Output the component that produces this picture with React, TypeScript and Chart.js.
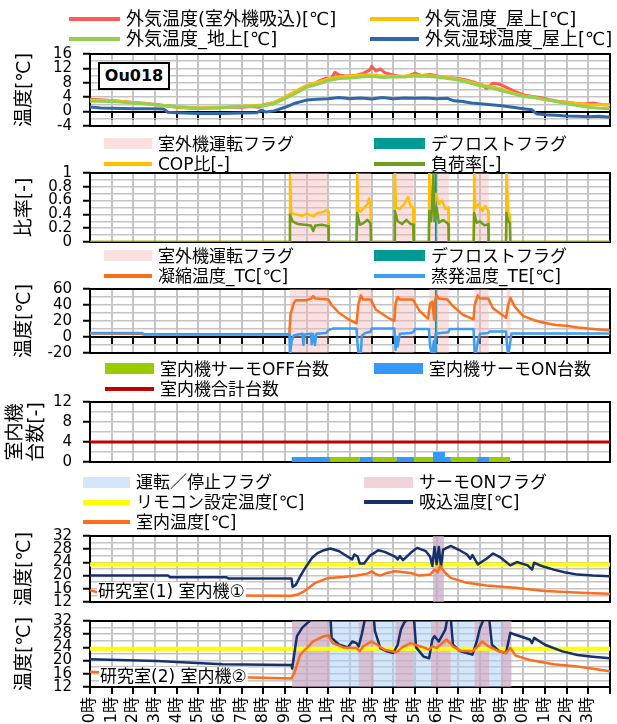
import React, { useEffect, useRef } from 'react';
import { Chart, registerables } from 'chart.js';

Chart.register(...registerables);
Chart.defaults.color = '#000';

type Pt = [number, number];

// ---------- tick labels ----------
const HOUR_LABELS = ['0時', '1時', '2時', '3時', '4時', '5時', '6時', '7時', '8時', '9時', '10時', '11時', '12時', '13時', '14時', '15時', '16時', '17時', '18時', '19時', '20時', '21時', '22時', '23時'];

// ---------- panel 1 : outdoor temperatures ----------
const outdoorIntake: Pt[] = [[0, 3.4], [0.5, 3.3], [1, 3.1], [1.5, 2.8], [2, 2.5], [2.5, 2.3], [3, 2.0], [3.5, 1.6], [4, 1.2], [4.5, 1.0], [5, 0.9], [5.5, 1.0], [6, 1.1], [6.5, 1.2], [7, 1.2], [7.5, 1.4], [7.8, 1.2], [8, 1.9], [8.5, 2.5], [9, 3.9], [9.5, 5.5], [10, 7.0], [10.3, 7.6], [10.6, 8.6], [10.9, 9.3], [11.1, 9.0], [11.3, 10.9], [11.5, 10.2], [11.8, 9.9], [12.2, 10.0], [12.6, 10.6], [12.9, 11.5], [13.0, 12.6], [13.2, 11.3], [13.4, 11.9], [13.6, 10.8], [13.9, 10.3], [14.2, 9.9], [14.6, 9.7], [15.0, 10.7], [15.3, 10.0], [15.7, 10.3], [16.1, 9.8], [16.5, 9.5], [17.0, 9.2], [17.4, 8.7], [17.8, 8.0], [18.1, 7.4], [18.3, 6.4], [18.6, 7.9], [18.9, 7.6], [19.2, 6.8], [19.6, 5.6], [20.0, 4.7], [20.4, 4.2], [20.8, 3.9], [21.2, 3.3], [21.6, 2.9], [22.0, 2.6], [22.4, 2.3], [22.8, 2.1], [23.2, 2.4], [23.6, 2.0], [24, 1.8]];
const outdoorRoof: Pt[] = [[0, 3.2], [1, 3.0], [2, 2.5], [3, 1.9], [4, 1.3], [5, 1.0], [6, 1.2], [7, 1.5], [8, 1.8], [8.5, 2.6], [9, 4.1], [9.5, 5.8], [10, 7.3], [10.5, 8.2], [11, 9.1], [11.5, 9.7], [12, 9.9], [12.5, 10.1], [13, 10.2], [13.5, 9.9], [14, 9.8], [14.5, 9.9], [15, 10.1], [15.5, 10.0], [16, 9.8], [16.5, 9.5], [17, 9.0], [17.5, 8.3], [18, 7.5], [18.5, 6.9], [19, 6.2], [19.5, 5.2], [20, 4.4], [20.5, 3.9], [21, 3.3], [21.5, 2.9], [22, 2.5], [22.5, 2.2], [23, 2.0], [23.5, 1.9], [24, 1.8]];
const outdoorGround: Pt[] = [[0, 2.9], [1, 2.8], [2, 2.4], [3, 2.0], [4, 1.4], [5, 0.9], [6, 1.1], [7, 1.4], [8, 1.6], [8.5, 2.2], [9, 3.6], [9.5, 5.1], [10, 6.8], [10.5, 7.6], [11, 8.6], [11.5, 9.2], [12, 9.3], [12.5, 9.6], [13, 9.8], [13.5, 9.5], [14, 9.6], [14.5, 9.6], [15, 9.9], [15.5, 9.8], [16, 9.6], [16.5, 9.2], [17, 8.8], [17.5, 8.0], [18, 7.2], [18.5, 6.6], [19, 5.8], [19.5, 5.0], [20, 4.2], [20.5, 3.9], [21, 3.4], [21.5, 2.8], [22, 2.2], [22.5, 1.7], [23, 1.2], [23.5, 0.9], [24, 0.8]];
const wetBulbRoof: Pt[] = [[0, 1.3], [0.5, 1.0], [1, 0.9], [2, 0.8], [3, 0.8], [3.4, 0.7], [3.6, -0.2], [4, -0.3], [5, -0.5], [6, -0.5], [7, -0.4], [7.7, -0.3], [7.9, 0.4], [8.1, -0.1], [8.5, 0.2], [9, 1.2], [9.5, 2.4], [10, 3.2], [10.5, 3.4], [11, 3.6], [11.5, 3.9], [12, 3.6], [12.5, 3.8], [13, 3.5], [13.5, 3.9], [14, 3.6], [14.5, 3.8], [15, 3.7], [15.5, 3.8], [16, 3.6], [16.5, 3.7], [16.8, 3.0], [17.2, 2.8], [17.6, 2.4], [18, 2.2], [18.5, 1.9], [19, 1.6], [19.5, 1.2], [20, 0.8], [20.4, 0.5], [20.6, -0.6], [21, -0.9], [21.5, -1.0], [22, -1.2], [22.5, -1.3], [23, -1.4], [23.5, -1.3], [24, -1.6]];

// ---------- panel 2 / 3 : outdoor unit ----------
const outdoorRunFlag: Pt[] = [[0, 0], [9.23, 1], [11.02, 0], [12.33, 1], [12.97, 0], [14.07, 1], [14.94, 0], [15.66, 1], [16.56, 0], [17.73, 1], [18.4, 0], [19.22, 1], [19.4, 0], [24, 0]];
const defrostFlag: Pt[] = [[0, 0], [15.92, 1], [16.0, 0], [24, 0]];
const copRatio: Pt[] = [[0, 0], [9.2, 0], [9.23, 0.97], [9.28, 0.42], [9.5, 0.4], [9.8, 0.38], [10.0, 0.41], [10.3, 0.37], [10.5, 0.42], [10.7, 0.43], [10.9, 0.46], [11.0, 0.44], [11.02, 0], [12.3, 0], [12.33, 1.0], [12.38, 0.45], [12.5, 0.44], [12.65, 0.5], [12.8, 0.55], [12.88, 0.63], [12.95, 0.5], [12.97, 0], [14.05, 0], [14.07, 1.0], [14.12, 0.5], [14.3, 0.48], [14.5, 0.55], [14.68, 0.65], [14.8, 0.52], [14.92, 0.5], [14.94, 0], [15.64, 0], [15.66, 1.0], [15.72, 0.6], [15.8, 0.75], [15.87, 0.45], [15.95, 0.7], [16.1, 0.55], [16.25, 0.6], [16.4, 0.48], [16.54, 0.5], [16.56, 0], [17.71, 0], [17.73, 1.0], [17.78, 0.5], [17.95, 0.55], [18.1, 0.45], [18.25, 0.52], [18.38, 0.45], [18.4, 0], [19.2, 0], [19.22, 1.0], [19.3, 0.42], [19.38, 0.4], [19.4, 0], [24, 0]];
const loadRatio: Pt[] = [[0, 0], [9.2, 0], [9.23, 0.4], [9.35, 0.3], [9.6, 0.26], [9.9, 0.25], [10.2, 0.24], [10.3, 0.16], [10.4, 0.24], [10.7, 0.25], [11.0, 0.23], [11.02, 0], [12.3, 0], [12.33, 0.42], [12.45, 0.25], [12.6, 0.27], [12.8, 0.32], [12.95, 0.27], [12.97, 0], [14.05, 0], [14.07, 0.45], [14.2, 0.3], [14.4, 0.26], [14.6, 0.32], [14.8, 0.26], [14.92, 0.25], [14.94, 0], [15.64, 0], [15.66, 0.45], [15.75, 0.3], [15.85, 0.98], [15.9, 0.3], [16.0, 0.5], [16.1, 0.28], [16.3, 0.32], [16.54, 0.26], [16.56, 0], [17.71, 0], [17.73, 0.42], [17.85, 0.28], [18.0, 0.3], [18.2, 0.24], [18.38, 0.26], [18.4, 0], [19.2, 0], [19.22, 0.42], [19.3, 0.3], [19.38, 0.28], [19.4, 0], [24, 0]];
const condTemp: Pt[] = [[0, 4.5], [2.3, 4.0], [2.5, 3.0], [9.2, 3.0], [9.25, 28], [9.4, 42], [9.5, 46], [10.0, 46], [10.2, 48], [10.3, 51], [10.4, 48], [11.0, 47], [11.15, 40], [11.5, 30], [12.0, 21], [12.3, 17], [12.38, 40], [12.5, 52], [12.6, 47], [12.95, 47], [13.2, 34], [13.7, 25], [14.05, 20], [14.1, 42], [14.2, 50], [14.3, 47], [14.9, 47], [15.2, 33], [15.6, 23], [15.7, 42], [15.8, 44], [15.88, 22], [15.92, 45], [16.0, 52], [16.1, 48], [16.5, 47], [16.7, 40], [17.2, 28], [17.7, 22], [17.75, 40], [17.9, 52], [18.0, 48], [18.38, 48], [18.6, 36], [19.2, 24], [19.3, 40], [19.4, 49], [19.6, 38], [20.0, 26], [20.5, 21], [21.0, 17.5], [21.5, 15], [22.0, 14], [22.5, 12], [23.0, 10.5], [23.5, 9.5], [24, 8.5]];
const evapTemp: Pt[] = [[0, 5.0], [2.4, 5.0], [2.5, 3.5], [9.2, 3.5], [9.23, -22], [9.3, -6], [9.4, 2], [9.6, 3], [9.8, 4], [9.85, -10], [9.9, 3], [10.2, 4], [10.23, -9], [10.3, 4], [10.38, -10], [10.45, 4], [10.9, 5], [11.0, 8.5], [11.2, 10.5], [12.3, 10.5], [12.35, -10], [12.4, -22], [12.5, -20], [12.55, 2], [12.7, 5], [12.95, 6.6], [13.0, 10.5], [14.05, 10.5], [14.1, -16], [14.15, 0], [14.2, -12], [14.3, 4], [14.8, 5], [14.92, 6], [15.0, 10], [15.64, 10], [15.7, -12], [15.8, -22], [15.87, -5], [15.9, -22], [15.95, 4], [16.2, 5], [16.54, 6], [16.6, 10], [17.7, 10], [17.75, -18], [17.8, -22], [17.9, -5], [18.0, 4], [18.38, 5], [18.45, 7], [19.2, 7], [19.25, -12], [19.3, -22], [19.38, -10], [19.45, 4.5], [24, 4.5]];

// ---------- panel 4 : indoor unit counts ----------
const thermoOffCount: Pt[] = [[0, 0], [11.08, 1], [12.45, 0], [13.05, 1], [14.15, 0], [14.95, 1], [15.83, 0], [16.65, 1], [17.87, 0], [18.42, 1], [19.39, 0], [24, 0]];
const thermoOnCount: Pt[] = [[0, 0], [9.31, 1], [11.08, 0], [12.45, 1], [13.05, 0], [14.15, 1], [14.95, 0], [15.83, 2], [16.38, 1], [16.65, 0], [17.87, 1], [18.42, 0], [24, 0]];
const totalCount: Pt[] = [[0, 4], [24, 4]];

// ---------- panel 5 : room (1) ----------
const runFlag1: Pt[] = [[0, 0], [15.83, 1], [16.33, 0], [24, 0]];
const thermoFlag1: Pt[] = [[0, 0], [15.83, 1], [16.33, 0], [24, 0]];
const setpoint1: Pt[] = [[0, 23.4], [24, 23.4]];
const intake1: Pt[] = [[0, 20.0], [3.6, 20.0], [3.7, 19.5], [6.3, 19.5], [6.4, 19.1], [9.3, 19.1], [9.35, 16.6], [9.5, 17.2], [9.7, 19.8], [10.0, 23.0], [10.25, 25.4], [10.5, 26.8], [10.8, 27.7], [11.1, 28.2], [11.5, 27.4], [11.9, 25.7], [12.1, 24.9], [12.2, 26.4], [12.35, 25.8], [12.45, 23.7], [12.65, 23.7], [12.9, 25.9], [13.3, 27.7], [13.6, 27.2], [14.1, 25.7], [14.2, 24.9], [14.3, 25.9], [14.45, 24.7], [14.8, 26.9], [15.1, 28.4], [15.5, 27.4], [15.7, 25.7], [15.8, 22.9], [15.9, 28.7], [16.0, 23.4], [16.1, 28.7], [16.2, 22.7], [16.3, 27.9], [16.65, 29.0], [17.0, 27.9], [17.4, 26.4], [17.55, 25.1], [17.65, 26.2], [17.9, 23.4], [18.3, 25.1], [18.6, 26.7], [18.9, 25.7], [19.4, 23.1], [19.7, 24.1], [20.2, 23.1], [20.4, 21.8], [20.5, 23.9], [20.85, 22.9], [21.4, 21.8], [21.9, 21.0], [22.5, 20.3], [23.2, 20.0], [24, 19.8]];
const room1: Pt[] = [[0, 15.6], [0.6, 14.5], [3.1, 14.2], [6, 14.0], [9.3, 13.9], [9.6, 14.3], [9.9, 15.3], [10.4, 17.8], [11.0, 19.3], [11.7, 19.6], [12.3, 20.0], [12.8, 20.6], [13.0, 21.3], [13.2, 20.4], [13.4, 20.0], [13.7, 20.8], [14.1, 21.3], [14.5, 21.0], [14.8, 20.8], [15.2, 20.0], [15.7, 20.3], [15.9, 21.8], [16.05, 21.0], [16.15, 22.9], [16.4, 20.8], [16.65, 19.3], [17.4, 17.8], [18.3, 17.0], [19.6, 16.3], [21.0, 15.3], [22.9, 14.7], [24, 14.5]];

// ---------- panel 6 : room (2) ----------
const runFlag2: Pt[] = [[0, 0], [9.33, 1], [19.45, 0], [24, 0]];
const thermoFlag2: Pt[] = [[0, 0], [9.33, 1], [11.08, 0], [12.4, 1], [13.1, 0], [14.1, 1], [14.95, 0], [15.74, 1], [16.65, 0], [17.75, 1], [18.42, 0], [18.98, 1], [19.45, 0], [24, 0]];
const setpoint2: Pt[] = [[0, 23.6], [24, 23.6]];
const intake2: Pt[] = [[0, 20.4], [3.1, 19.9], [6.1, 18.9], [9.3, 18.7], [9.33, 17.6], [9.55, 27.4], [9.8, 30], [10.3, 33], [11.1, 33], [11.15, 26.9], [11.5, 24.8], [11.9, 24.0], [12.1, 25.8], [12.3, 25.3], [12.4, 24.3], [12.55, 28.1], [12.7, 33], [13.1, 33], [13.15, 29], [13.4, 23.8], [13.7, 22.8], [14.0, 22.3], [14.2, 24.8], [14.35, 29.4], [14.5, 31.5], [14.75, 33], [14.95, 33], [15.05, 24], [15.4, 21.2], [15.65, 20.7], [15.8, 26.4], [15.9, 27.4], [16.1, 25.8], [16.4, 29.4], [16.5, 33], [16.65, 33], [16.75, 24.8], [17.1, 22.8], [17.4, 22.3], [17.65, 21.8], [17.85, 25.8], [18.0, 29.9], [18.2, 33], [18.42, 33], [18.55, 24.8], [18.9, 22.8], [19.2, 22.3], [19.4, 28.4], [19.6, 27.9], [20.3, 26.4], [20.4, 25.3], [20.5, 26.9], [21.0, 24.8], [21.8, 22.8], [22.5, 21.7], [23.2, 21.2], [24, 20.7]];
const room2: Pt[] = [[0, 16.6], [3.1, 15.6], [6.1, 15.1], [9.3, 14.6], [9.45, 16.6], [9.7, 21.7], [10.3, 25.8], [10.8, 27.4], [11.0, 27.7], [11.2, 25.3], [11.7, 24.0], [12.3, 23.8], [12.45, 22.8], [12.6, 24.3], [13.0, 25.8], [13.3, 24.6], [13.6, 23.3], [14.1, 22.6], [14.2, 22.8], [14.4, 24.0], [14.8, 25.3], [15.0, 24.8], [15.4, 24.0], [15.65, 23.3], [15.8, 24.3], [16.0, 23.8], [16.45, 26.4], [16.75, 24.3], [17.1, 23.0], [17.65, 22.8], [17.85, 24.0], [18.1, 25.8], [18.4, 24.3], [18.8, 23.0], [19.2, 22.3], [19.4, 23.8], [19.65, 21.5], [20.3, 20.2], [21.4, 18.9], [22.5, 18.2], [24, 16.8]];

// ---------- styles ----------
const C = {
  intake: '#ff5a5a',
  roof: '#ffc000',
  ground: '#92d050',
  wet: '#2f67a7',
  runPink: 'rgba(245,180,185,0.42)',
  defrost: '#009a96',
  cop: '#ffc000',
  load: '#6e9c1c',
  cond: '#ff6f1a',
  evap: '#3d9df2',
  off: '#99cc00',
  on: '#3399ff',
  total: '#c00000',
  runBlue: 'rgba(170,205,245,0.5)',
  thermoPink: 'rgba(225,140,160,0.4)',
  setpoint: '#ffff00',
  navy: '#16306e',
  room: '#fb6e1e',
};
const GRID = '#c4c4c4';
const MIX_FONT = "'DejaVu Sans', 'Noto Sans CJK JP', sans-serif";
// Chart.js reserves (label half height + tick padding) = 9 + 11 = 20px above and below a vertical axis
const EDGE = 20;
const BOTTOM_PAD = 12;
const CANVAS_W = 640;
const RIGHT_PAD = 30;
const XLAB_H = 60;

const toXY = (d: Pt[]) => d.map(([x, y]) => ({ x, y }));
const line = (label: string, d: Pt[], color: string, width: number, order: number) => ({
  type: 'line', label, data: toXY(d), borderColor: color, borderWidth: width, pointRadius: 0,
  fill: false, tension: 0, order, yAxisID: 'y', borderJoinStyle: 'round', borderCapStyle: 'round',
});
const area = (label: string, d: Pt[], color: string, order: number, axis = 'yf') => ({
  type: 'line', label, data: toXY(d), stepped: true, fill: 'origin', backgroundColor: color,
  borderColor: 'rgba(0,0,0,0)', borderWidth: 0, pointRadius: 0, order, yAxisID: axis,
});

const framePlugin = {
  id: 'frame',
  beforeDatasetsDraw(chart: any) {
    const { ctx, chartArea: a } = chart;
    ctx.save();
    ctx.strokeStyle = '#000';
    ctx.lineWidth = 2;
    ctx.strokeRect(a.left, a.top, a.right - a.left, a.bottom - a.top);
    ctx.restore();
  },
};

interface Spec {
  top: number; bottom: number; yMin: number; yMax: number; yStep: number; labelStep: number;
  title: string | string[]; titlePad: number; xMode: 'zero' | 'none' | 'labels'; flags: boolean; datasets: any[];
}

const PANELS: Spec[] = [
  {
    top: 54, bottom: 126, yMin: -4, yMax: 16, yStep: 2, labelStep: 4, title: '温度[℃]', titlePad: 14.5, xMode: 'zero', flags: false,
    datasets: [
      line('外気温度(室外機吸込)[℃]', outdoorIntake, C.intake, 3, 4),
      line('外気温度_屋上[℃]', outdoorRoof, C.roof, 3, 3),
      line('外気温度_地上[℃]', outdoorGround, C.ground, 3, 2),
      line('外気湿球温度_屋上[℃]', wetBulbRoof, C.wet, 3, 1),
    ],
  },
  {
    top: 173, bottom: 242, yMin: 0, yMax: 1, yStep: 0.1, labelStep: 0.2, title: '比率[-]', titlePad: 14.5, xMode: 'none', flags: true,
    datasets: [
      area('室外機運転フラグ', outdoorRunFlag, C.runPink, 10),
      area('デフロストフラグ', defrostFlag, C.defrost, 9),
      line('COP比[-]', copRatio, C.cop, 2.5, 2),
      line('負荷率[-]', loadRatio, C.load, 2.5, 1),
    ],
  },
  {
    top: 289, bottom: 353, yMin: -20, yMax: 60, yStep: 10, labelStep: 20, title: '温度[℃]', titlePad: 14.5, xMode: 'zero', flags: true,
    datasets: [
      area('室外機運転フラグ', outdoorRunFlag, C.runPink, 10),
      area('デフロストフラグ', defrostFlag, C.defrost, 9),
      line('凝縮温度_TC[℃]', condTemp, C.cond, 2.5, 2),
      line('蒸発温度_TE[℃]', evapTemp, C.evap, 2.5, 1),
    ],
  },
  {
    top: 402, bottom: 462, yMin: 0, yMax: 12, yStep: 2, labelStep: 4, title: ['室内機', '台数[-]'], titlePad: 5.5, xMode: 'none', flags: false,
    datasets: [
      area('室内機サーモOFF台数', thermoOffCount, C.off, 3, 'y'),
      area('室内機サーモON台数', thermoOnCount, C.on, 2, 'y'),
      line('室内機合計台数', totalCount, C.total, 3, 1),
    ],
  },
  {
    top: 536, bottom: 602, yMin: 12, yMax: 32, yStep: 2, labelStep: 4, title: '温度[℃]', titlePad: 14.5, xMode: 'none', flags: true,
    datasets: [
      area('運転／停止フラグ', runFlag1, C.runBlue, 11),
      area('サーモONフラグ', thermoFlag1, C.thermoPink, 10),
      line('リモコン設定温度[℃]', setpoint1, C.setpoint, 4, 3),
      line('吸込温度[℃]', intake1, C.navy, 2.5, 2),
      line('室内温度[℃]', room1, C.room, 2.5, 1),
    ],
  },
  {
    top: 621, bottom: 687, yMin: 12, yMax: 32, yStep: 2, labelStep: 4, title: '温度[℃]', titlePad: 14.5, xMode: 'labels', flags: true,
    datasets: [
      area('運転／停止フラグ', runFlag2, C.runBlue, 11),
      area('サーモONフラグ', thermoFlag2, C.thermoPink, 10),
      line('リモコン設定温度[℃]', setpoint2, C.setpoint, 4, 3),
      line('吸込温度[℃]', intake2, C.navy, 2.5, 2),
      line('室内温度[℃]', room2, C.room, 2.5, 1),
    ],
  },
];

function canvasHeight(spec: Spec) {
  const plot = spec.bottom - spec.top;
  return spec.xMode === 'labels' ? EDGE + plot + XLAB_H + BOTTOM_PAD : EDGE + plot + EDGE;
}

function buildConfig(spec: Spec): any {
  const isMajor = (v: number) => Math.abs(v / spec.labelStep - Math.round(v / spec.labelStep)) < 1e-6;
  const x: any = {
    type: 'linear', min: 0, max: 24,
    ticks: { stepSize: 1, autoSkip: false, maxTicksLimit: 100, display: false },
    grid: { color: GRID, lineWidth: 2, drawTicks: spec.xMode !== 'none', tickLength: 7, tickColor: '#000', tickWidth: 2 },
    border: { display: spec.xMode === 'zero', color: '#000', width: 2 },
  };
  if (spec.xMode === 'zero') x.position = { y: 0 };
  if (spec.xMode === 'labels') {
    x.position = 'bottom';
    x.ticks = {
      stepSize: 1, autoSkip: false, maxTicksLimit: 100, display: true, minRotation: 90, maxRotation: 90, padding: 3,
      color: '#000', font: { family: MIX_FONT, size: 16 },
      callback: (v: number) => { const i = Math.round(v); return i >= 0 && i < 24 ? HOUR_LABELS[i] : ''; },
    };
    x.afterFit = (s: any) => { s.height = XLAB_H; };
  }
  const scales: any = {
    x,
    y: {
      type: 'linear', position: 'left', min: spec.yMin, max: spec.yMax,
      ticks: {
        stepSize: spec.yStep, autoSkip: false, maxTicksLimit: 100, padding: 11, color: '#000',
        font: { family: MIX_FONT, size: 15 },
        callback: (v: number) => (isMajor(v) ? String(Math.round(v * 100) / 100) : ''),
      },
      grid: {
        color: GRID, lineWidth: 1.5, drawTicks: true, tickLength: 7, tickWidth: 2,
        tickColor: (ctx: any) => (ctx.tick && isMajor(ctx.tick.value) ? '#000' : 'rgba(0,0,0,0)'),
      },
      border: { display: false },
      title: {
        display: true, text: spec.title, color: '#000',
        font: { family: MIX_FONT, size: 19, lineHeight: 1.1 },
        padding: { top: spec.titlePad, bottom: 0 },
      },
      afterFit: (s: any) => { s.width = 90; },
    },
  };
  if (spec.flags) scales.yf = { type: 'linear', display: false, min: 0, max: 1 };
  return {
    type: 'line',
    data: { datasets: spec.datasets },
    options: {
      animation: false, responsive: false, devicePixelRatio: 1, events: [],
      layout: { padding: { top: 0, bottom: spec.xMode === 'labels' ? BOTTOM_PAD : 0, left: 0, right: RIGHT_PAD } },
      plugins: { legend: { display: false }, tooltip: { enabled: false } },
      scales,
    },
    plugins: [framePlugin],
  };
}

function Panel({ spec }: { spec: Spec }) {
  const ref = useRef<HTMLCanvasElement>(null);
  useEffect(() => {
    const chart = new Chart(ref.current as HTMLCanvasElement, buildConfig(spec));
    return () => chart.destroy();
  }, [spec]);
  const h = canvasHeight(spec);
  return (
    <canvas
      ref={ref}
      width={CANVAS_W}
      height={h}
      style={{ position: 'absolute', left: 0, top: spec.top - EDGE, width: CANVAS_W, height: h }}
    />
  );
}

function Item(props: { x: number; tx: number; y: number; box?: boolean; color: string; text: string; size?: number; thick?: number }) {
  const { x, tx, y, box, color, text, size = 17, thick = 4 } = props;
  const sh = box ? 11 : thick;
  return (
    <>
      <div style={{ position: 'absolute', left: x, top: y - sh / 2, width: tx - x - 6, height: sh, background: color }} />
      <div style={{ position: 'absolute', left: tx, top: y - 11, height: 22, lineHeight: '22px', fontSize: size, fontFamily: MIX_FONT, whiteSpace: 'nowrap', color: '#000' }}>{text}</div>
    </>
  );
}

const noteStyle: any = {
  position: 'absolute', background: '#fff', fontFamily: MIX_FONT, fontSize: 17, lineHeight: '19px', height: 19,
  whiteSpace: 'nowrap', color: '#000', padding: '0 1px',
};

export default function App() {
  return (
    <div style={{ position: 'fixed', left: 0, top: 0, width: 617, height: 724, overflow: 'hidden', background: '#fff' }}>
      {PANELS.map((p, i) => <Panel key={i} spec={p} />)}

      {/* panel 1 legend */}
      <Item x={69} tx={126} y={19} color={C.intake} text="外気温度(室外機吸込)[℃]" size={18} />
      <Item x={370} tx={425} y={19} color={C.roof} text="外気温度_屋上[℃]" size={18} />
      <Item x={69} tx={126} y={39} color={C.ground} text="外気温度_地上[℃]" size={18} />
      <Item x={370} tx={425} y={39} color={C.wet} text="外気湿球温度_屋上[℃]" size={18} />
      <div style={{ position: 'absolute', left: 98, top: 62, width: 72, height: 28, boxSizing: 'border-box', border: '2px solid #000', background: '#fff', fontFamily: MIX_FONT, fontWeight: 'bold', fontSize: 16, lineHeight: '24px', textAlign: 'center', color: '#000' }}>Ou018</div>

      {/* panel 2 legend */}
      <Item x={104} tx={158} y={143.5} box color={C.runPink} text="室外機運転フラグ" />
      <Item x={374} tx={431} y={143.5} box color={C.defrost} text="デフロストフラグ" />
      <Item x={104} tx={158} y={163.5} color={C.cop} text="COP比[-]" />
      <Item x={374} tx={431} y={163.5} color={C.load} text="負荷率[-]" />

      {/* panel 3 legend */}
      <Item x={104} tx={158} y={255.5} box color={C.runPink} text="室外機運転フラグ" />
      <Item x={374} tx={431} y={255.5} box color={C.defrost} text="デフロストフラグ" />
      <Item x={104} tx={158} y={275.5} color={C.cond} text="凝縮温度_TC[℃]" />
      <Item x={374} tx={431} y={275.5} color={C.evap} text="蒸発温度_TE[℃]" />

      {/* panel 4 legend */}
      <Item x={105} tx={160} y={368.5} box color={C.off} text="室内機サーモOFF台数" />
      <Item x={374} tx={429} y={368.5} box color={C.on} text="室内機サーモON台数" />
      <Item x={105} tx={160} y={388.5} color={C.total} text="室内機合計台数" />

      {/* panel 5 legend */}
      <Item x={83} tx={136} y={482} box color={C.runBlue} text="運転／停止フラグ" />
      <Item x={364} tx={419} y={482} box color={C.thermoPink} text="サーモONフラグ" />
      <Item x={83} tx={136} y={502} color={C.setpoint} thick={5} text="リモコン設定温度[℃]" />
      <Item x={364} tx={419} y={502} color={C.navy} text="吸込温度[℃]" />
      <Item x={83} tx={136} y={522} color={C.room} text="室内温度[℃]" />

      <div style={{ ...noteStyle, left: 97, top: 582 }}>研究室(1) 室内機①</div>
      <div style={{ ...noteStyle, left: 99, top: 667 }}>研究室(2) 室内機②</div>
    </div>
  );
}
